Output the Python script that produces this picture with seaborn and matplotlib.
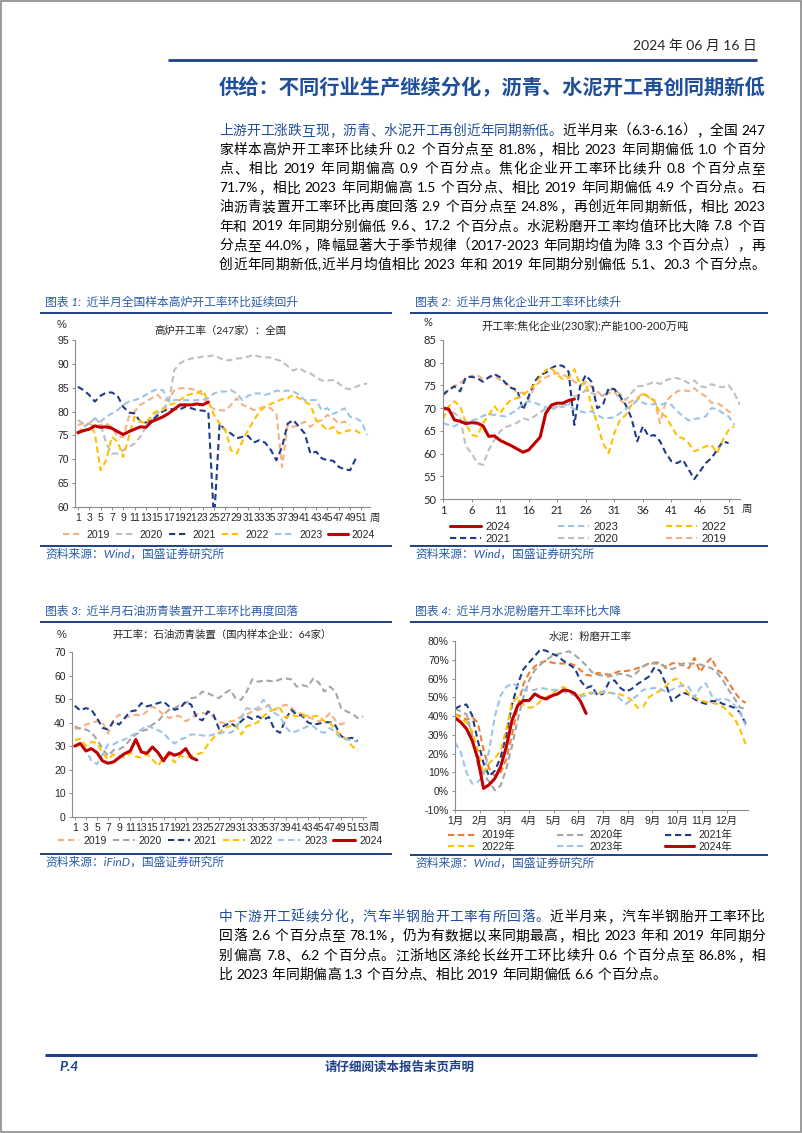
import re
import numpy as np
import matplotlib
matplotlib.use("Agg")
import matplotlib.pyplot as plt
from matplotlib.patches import Rectangle
import seaborn as sns

# ---- chart 1: blast furnace utilisation (247 mills), weekly
bf_2019 = [77.2, 77.5, 77.5, 76.8, 77.2, 77.5, 76.8, 74.7, 74.7, 78.9, 80.0, 81.4, 82.1, 82.8, 83.5, 82.4,
           82.4, 84.5, 84.9, 84.9, 84.7, 84.5, 83.5, 81.4, 80.5, 80.3, 80.2, 81.4, 82.8, 81.4, 81.0, 80.3,
           80.7, 81.0, 80.7, 79.6, 68.4, 77.2, 76.8, 77.2, 77.9, 76.8, 77.9, 78.2, 79.3, 78.6, 77.5, 77.9, 77.2]
bf_2020 = [78.2, 77.5, 77.5, 78.6, 77.5, 73.3, 71.2, 71.2, 71.9, 72.6, 73.3, 74.7, 76.8, 78.6, 79.6, 80.7,
           81.7, 88.7, 90.1, 90.8, 91.1, 91.3, 91.5, 91.6, 91.8, 91.2, 90.7, 90.8, 91.1, 91.2, 91.5, 91.9,
           91.5, 91.4, 91.3, 90.9, 90.5, 89.5, 88.6, 89.1, 88.4, 88.0, 87.2, 86.5, 86.5, 86.6, 85.9, 84.9,
           84.7, 85.2, 85.6, 85.9]
bf_2021 = [85.2, 84.5, 83.5, 82.1, 83.3, 84.0, 84.0, 83.3, 81.0, 79.8, 79.6, 77.9, 77.7, 78.2, 79.1, 80.1,
           80.5, 80.5, 80.5, 81.0, 80.7, 80.3, 80.2, 80.0, 57.0, 77.5, 76.1, 75.4, 74.4, 74.7, 74.9, 73.5,
           74.0, 73.5, 72.0, 69.8, 72.6, 77.5, 78.2, 76.8, 75.4, 71.2, 71.6, 70.2, 69.8, 69.7, 68.4, 67.9,
           67.7, 70.2]
bf_2022 = [75.4, 76.8, 77.5, 75.4, 67.7, 69.8, 74.7, 73.7, 70.5, 74.7, 78.9, 77.9, 77.5, 79.3, 80.2, 80.3,
           81.4, 81.7, 82.4, 83.3, 83.7, 83.8, 84.5, 82.1, 79.3, 77.5, 76.1, 71.9, 71.2, 73.7, 76.1, 78.1,
           80.0, 81.0, 81.6, 82.1, 82.6, 82.8, 83.5, 82.8, 82.1, 81.4, 78.2, 77.2, 76.1, 76.8, 75.4, 75.8,
           76.1, 76.0, 75.3]
bf_2023 = [75.1, 76.8, 77.5, 78.6, 77.9, 78.9, 79.6, 80.3, 81.4, 82.1, 82.4, 82.8, 83.5, 84.2, 84.7, 84.5,
           82.1, 82.4, 82.4, 82.4, 82.3, 82.4, 82.4, 82.8, 83.8, 84.2, 84.2, 84.5, 83.8, 82.4, 83.3, 83.8,
           83.8, 83.5, 83.8, 84.4, 84.2, 84.4, 84.2, 83.5, 82.4, 82.4, 82.4, 80.3, 80.7, 79.5, 80.0, 80.7,
           78.9, 78.6, 77.9, 75.1]
bf_2024 = [75.6, 76.0, 76.3, 77.0, 76.7, 76.8, 76.5, 75.8, 75.2, 75.8, 76.3, 76.8, 76.7, 77.9, 78.4, 78.9,
           79.6, 80.5, 81.4, 81.4, 81.4, 81.6, 81.4, 82.0]

# ---- chart 2: coking plants (230), weekly
coke_2019 = [73.3, 74.0, 74.9, 75.5, 76.6, 77.1, 77.3, 76.4, 76.6, 77.1, 76.2, 75.3, 74.8, 73.3, 73.4, 71.8,
             74.8, 75.8, 76.8, 77.3, 77.7, 77.3, 76.8, 75.8, 75.1, 75.5, 74.8, 73.7, 72.6, 73.3, 73.7, 71.8,
             70.9, 71.5, 72.2, 73.3, 72.4, 71.8, 66.7, 71.5, 72.7, 73.7, 74.0, 73.7, 74.4, 73.3, 72.6, 71.2,
             71.1, 70.4, 69.3, 68.5]
coke_2020 = [70.0, 69.3, 68.9, 67.8, 61.6, 60.1, 57.9, 57.5, 60.8, 63.0, 64.9, 65.8, 66.3, 66.8, 67.8, 67.4,
             68.2, 69.0, 70.0, 70.0, 70.5, 70.2, 70.7, 72.6, 72.9, 74.0, 73.3, 72.9, 72.7, 73.9, 74.2, 73.1,
             71.8, 73.3, 74.8, 74.9, 75.3, 75.8, 75.3, 76.1, 76.6, 76.6, 76.2, 75.5, 76.1, 74.8, 74.6, 75.3,
             74.8, 74.6, 75.1, 73.3, 70.7]
coke_2021 = [72.9, 74.0, 74.8, 73.7, 76.8, 76.9, 76.6, 75.8, 76.8, 77.5, 76.8, 75.5, 74.4, 74.0, 69.6, 72.6,
             75.8, 77.3, 77.8, 78.8, 79.5, 79.3, 78.0, 66.3, 74.8, 77.3, 75.8, 70.0, 70.7, 74.4, 74.2, 72.6,
             70.7, 67.8, 62.7, 66.0, 63.8, 64.1, 62.7, 60.1, 58.3, 57.9, 58.6, 56.5, 54.4, 56.1, 57.9, 59.0,
             60.8, 62.7, 62.3]
coke_2022 = [67.6, 70.4, 71.5, 70.4, 66.7, 64.1, 63.8, 66.7, 68.5, 70.4, 68.9, 70.7, 72.0, 72.2, 72.9, 73.9,
             75.1, 76.8, 78.4, 78.8, 77.3, 76.4, 76.6, 78.6, 75.1, 75.8, 70.4, 66.7, 62.3, 60.1, 64.5, 67.4,
             68.5, 70.7, 71.8, 73.1, 72.7, 71.5, 68.9, 68.2, 66.0, 63.8, 63.4, 62.3, 60.5, 61.0, 61.6, 61.9,
             60.1, 63.0, 65.2, 66.0]
coke_2023 = [66.7, 66.3, 66.0, 66.8, 67.1, 67.3, 67.6, 68.3, 68.7, 68.5, 68.3, 68.2, 68.9, 69.6, 71.1, 71.5,
             71.2, 70.7, 70.2, 69.5, 70.4, 70.9, 70.5, 69.8, 69.3, 69.0, 69.3, 68.5, 67.8, 67.8, 68.0, 68.9,
             69.8, 70.5, 71.7, 71.2, 70.7, 70.9, 70.7, 71.1, 70.7, 69.3, 68.3, 67.3, 67.6, 67.8, 68.2, 70.0,
             69.8, 68.9, 68.2, 66.3]
coke_2024 = [70.0, 69.8, 67.4, 67.1, 66.6, 66.8, 66.7, 66.1, 63.8, 63.9, 62.9, 62.3, 61.7, 61.0, 60.3, 60.8,
             62.2, 63.6, 68.9, 70.7, 71.1, 71.1, 71.7, 72.0]

# ---- chart 3: petroleum asphalt units (64 firms), weekly
asp_2019 = [37.4, 37.8, 39.2, 39.9, 40.6, 40.2, 35.4, 41.3, 43.4, 42.0, 42.7, 43.4, 43.0, 44.8, 46.9, 45.5,
            43.4, 42.0, 43.0, 42.7, 40.6, 42.0, 43.4, 44.1, 43.8, 42.4, 40.2, 39.9, 40.6, 41.0, 42.7, 43.4,
            44.8, 45.5, 46.2, 47.6, 45.5, 46.9, 47.6, 46.6, 44.1, 43.8, 42.4, 41.6, 40.6, 41.6, 44.1, 41.0,
            39.2, 40.2]
asp_2020 = [38.5, 37.4, 37.1, 36.0, 32.9, 29.0, 25.9, 28.4, 28.7, 30.1, 32.9, 35.0, 36.4, 37.1, 39.2, 40.6,
            43.4, 45.5, 46.2, 47.6, 48.3, 50.4, 50.8, 53.2, 52.5, 51.4, 50.4, 52.5, 53.9, 50.4, 49.7, 53.2,
            58.4, 57.4, 57.8, 57.8, 57.4, 58.4, 58.8, 58.4, 55.3, 56.0, 55.3, 58.8, 57.0, 53.2, 55.3, 53.2,
            46.2, 44.8, 43.8, 42.0, 42.7]
asp_2021 = [47.2, 45.2, 46.2, 45.5, 42.0, 37.8, 37.1, 40.6, 39.2, 42.0, 44.8, 45.2, 48.3, 46.9, 47.6, 48.3,
            49.0, 46.9, 45.5, 46.2, 49.0, 47.6, 42.0, 41.0, 44.8, 43.4, 37.4, 38.8, 39.9, 38.5, 40.6, 42.7,
            41.6, 42.7, 41.3, 42.4, 37.1, 35.7, 41.3, 45.5, 43.4, 43.0, 40.2, 39.2, 39.6, 40.2, 40.2, 38.8,
            34.3, 33.2, 33.6, 32.2]
asp_2022 = [32.6, 33.2, 30.1, 31.8, 31.5, 27.3, 24.5, 26.6, 25.9, 25.2, 27.3, 25.6, 25.2, 26.6, 24.5, 21.7,
            25.2, 26.2, 23.1, 25.9, 25.2, 25.9, 26.6, 27.3, 30.8, 33.6, 35.7, 37.8, 38.5, 39.2, 35.0, 38.5,
            39.2, 40.2, 42.7, 44.8, 45.5, 46.2, 42.0, 43.4, 42.7, 43.0, 43.0, 42.7, 43.0, 40.6, 39.9, 37.1,
            34.3, 33.2, 30.1, 28.0]
asp_2023 = [29.8, 30.8, 28.7, 23.8, 22.4, 26.6, 30.8, 30.8, 32.2, 32.9, 34.3, 35.4, 37.1, 38.8, 37.8, 36.8,
            35.7, 32.9, 31.2, 32.9, 33.6, 35.0, 35.0, 34.6, 34.3, 35.0, 35.4, 36.0, 35.7, 37.1, 42.0, 46.2,
            45.5, 46.2, 49.7, 46.9, 44.1, 42.7, 38.2, 35.7, 36.4, 37.4, 38.5, 38.5, 36.4, 35.7, 37.8, 35.7,
            33.6, 32.9, 32.6, 31.8]
asp_2024 = [30.1, 31.2, 28.0, 29.0, 27.3, 23.8, 22.8, 23.4, 25.2, 26.9, 28.0, 32.9, 27.6, 27.0, 29.7, 27.3,
            23.8, 27.3, 26.2, 27.0, 29.0, 25.2, 24.2]

# ---- chart 4: cement grinding utilisation (%), weekly through the year
cem_2019 = [41, 40, 38, 39.5, 36.5, 22, 12, 8, 10, 17, 30, 45, 57, 63, 66.5, 68.5, 69.5, 68.5, 68, 68,
            68.2, 67, 64.5, 62, 61.5, 63, 62.5, 62, 63, 64, 64, 64.5, 65.5, 66.5, 68, 68.5, 68.5, 65.5, 68, 68.5,
            67, 65.5, 71, 63.5, 68, 71, 64.5, 62.5, 58, 53, 49, 47]
cem_2020 = [44, 42.5, 41, 30, 14, 9, 5, 0.5, 3, 12, 24, 38, 50, 59, 64.5, 67.5, 70, 72, 73, 73.8,
            74.5, 72.5, 70, 67, 63.5, 62, 61.5, 61, 62, 62.5, 62, 61, 63.5, 66.5, 68, 68, 67.5, 66.5, 65, 66,
            68, 68, 68, 67.5, 66.5, 65.5, 63, 59, 54, 49.5, 44.5, 44]
cem_2021 = [44, 45.5, 46.2, 40.5, 27, 15, 8, 11, 18, 30, 46, 57, 65, 68.5, 72, 75.5, 74.8, 73.2, 72, 69.5,
            67.5, 65.5, 59, 55, 56, 51, 52, 58, 59, 55, 53, 54.5, 57, 59, 61, 66, 64, 57, 48, 50.5,
            52.5, 51.5, 49, 47.5, 46.5, 48, 48, 46.5, 45.5, 44.5, 42, 36]
cem_2022 = [41, 39, 36.5, 32, 22, 9, 15, 17.6, 21.5, 33, 47, 50, 46, 44.5, 45, 48, 50, 52, 54, 55.5,
            54, 52, 51, 52.5, 52.5, 52, 52.5, 52.5, 52, 51.5, 50.5, 48.5, 44.5, 45, 50, 52, 53.5, 56, 59, 60,
            56, 52, 50, 48.5, 47.5, 47, 46.5, 45, 42, 39, 33, 25]
cem_2023 = [26, 21, 10, 4, 5, 8.5, 22, 40, 51, 55.5, 57.5, 56, 54, 53.5, 54, 55, 54.5, 54, 54, 53,
            52, 51, 50.2, 51, 52, 53, 53, 52.5, 52, 49, 46.5, 49, 51, 54, 54.6, 55, 54.5, 53, 54, 55.5,
            56.5, 55.5, 50, 55, 57.5, 51, 48.5, 49.5, 48.5, 46, 42, 35]
cem_2024 = [39.1, 36.8, 33.3, 27.1, 17.4, 1.5, 3.5, 6.8, 13.0, 23.6, 37.7, 45.6, 48.3, 48.3, 51.8, 50.0,
            49.1, 50.9, 51.8, 53.9, 53.5, 52.0, 48.0, 41.4]

months = ["1月", "2月", "3月", "4月", "5月", "6月", "7月", "8月", "9月", "10月", "11月", "12月"]

header_date = "2024 年 06 月 16 日"
section_title = "供给：不同行业生产继续分化，沥青、水泥开工再创同期新低"
para1_lead = "上游开工涨跌互现，沥青、水泥开工再创近年同期新低。"
para1 = [
    "近半月来（6.3-6.16），全国 247",
    "家样本高炉开工率环比续升 0.2 个百分点至 81.8%，相比 2023 年同期偏低 1.0 个百分",
    "点、相比 2019 年同期偏高 0.9 个百分点。焦化企业开工率环比续升 0.8 个百分点至",
    "71.7%，相比 2023 年同期偏高 1.5 个百分点、相比 2019 年同期偏低 4.9 个百分点。石",
    "油沥青装置开工率环比再度回落 2.9 个百分点至 24.8%，再创近年同期新低，相比 2023",
    "年和 2019 年同期分别偏低 9.6、17.2 个百分点。水泥粉磨开工率均值环比大降 7.8 个百",
    "分点至 44.0%，降幅显著大于季节规律（2017-2023 年同期均值为降 3.3 个百分点），再",
    "创近年同期新低,近半月均值相比 2023 年和 2019 年同期分别偏低 5.1、20.3 个百分点。",
]
para2_lead = "中下游开工延续分化，汽车半钢胎开工率有所回落。"
para2 = [
    "近半月来，汽车半钢胎开工率环比",
    "回落 2.6 个百分点至 78.1%，仍为有数据以来同期最高，相比 2023 年和 2019 年同期分",
    "别偏高 7.8、6.2 个百分点。江浙地区涤纶长丝开工环比续升 0.6 个百分点至 86.8%，相",
    "比 2023 年同期偏高 1.3 个百分点、相比 2019 年同期偏低 6.6 个百分点。",
]

sns.set_style("white")
CJK = "Noto Sans CJK SC"
MIX = ["Lato", CJK]
ARIAL = ["Liberation Sans", CJK]
plt.rcParams["font.family"] = ARIAL
plt.rcParams["axes.unicode_minus"] = False

BLUE = "#1F4E9A"
RULE = "#1F3F8C"
W, H = 802, 1133
fig = plt.figure(figsize=(W / 100, H / 100), dpi=100)
renderer = fig.canvas.get_renderer()

# full-page layer in pixel coordinates for text and rules
bg = fig.add_axes([0, 0, 1, 1])
bg.set_xlim(0, W)
bg.set_ylim(H, 0)
bg.axis("off")
bg.add_patch(Rectangle((0.5, 0.5), W - 1.5, H - 1.5, fill=False, ec="#8a8a8a", lw=1.2))


def rule(x0, x1, y, lw=1.6):
    bg.plot([x0, x1], [y, y], color=RULE, lw=lw, solid_capstyle="butt")


def add_axes(x0, y0, x1, y1):
    return fig.add_axes([x0 / W, 1 - y1 / H, (x1 - x0) / W, (y1 - y0) / H])


# header / title
bg.text(757, 46, header_date, ha="right", va="center", fontsize=10, family=MIX)
rule(168, 757, 60, lw=2)
bg.text(765, 88, section_title, ha="right", va="center", fontsize=14.6, family=CJK,
        fontweight="bold", color=BLUE)

BODY_FS = 9.9
SPACE_W = 3.6


def word_width(s):
    t = bg.text(0, 0, s, fontsize=BODY_FS, family=MIX)
    w = t.get_window_extent(renderer=renderer).width
    t.remove()
    return w


def body_line(segments, y, fill=True, x0=219, x1=765):
    # justified line: spread the slack evenly between characters / words
    items = []
    for s, color in segments:
        items += [(tok, color) for tok in re.findall(r"[A-Za-z0-9.%\-]+| |.", s)]
    widths = [SPACE_W if tok == " " else word_width(tok) for tok, _ in items]
    extra = (x1 - x0 - sum(widths)) / (len(items) - 1) if fill else 0.0
    x = x0
    for (tok, color), w in zip(items, widths):
        if tok != " ":
            bg.text(x, y, tok, ha="left", va="baseline", fontsize=BODY_FS, family=MIX, color=color)
        x += w + extra


def paragraph(lead, lines, yc, step, fill_last):
    body_line([(lead, BLUE), (lines[0], "black")], yc + 5)
    last = len(lines) - 1
    for i, s in enumerate(lines[1:], start=1):
        body_line([(s, "black")], yc + 5 + i * step, fill=(i < last) or fill_last)


paragraph(para1_lead, para1, 130, 19.1, True)
paragraph(para2_lead, para2, 916, 19.4, False)

# footer
rule(45, 757, 1055, lw=2.2)
bg.text(59, 1067, "P.4", ha="left", va="center", fontsize=10, family=MIX, fontweight="bold",
        fontstyle="italic", color=RULE)
bg.text(400, 1067, "请仔细阅读本报告末页声明", ha="center", va="center", fontsize=9,
        family=CJK, fontweight="bold", color=RULE)

col_a = {2019: "#F4B183", 2020: "#BFBFBF", 2021: "#1F3C88", 2022: "#FFC000", 2023: "#9DC3E6",
         2024: "#C00000"}
col_c = {**col_a, 2020: "#A6A6A6"}
col_d = {2019: "#ED7D31", 2020: "#A5A5A5", 2021: "#203A8C", 2022: "#FFC000", 2023: "#9DC3E6",
         2024: "#C00000"}


def draw_lines(ax, series, colors):
    x = np.arange(1, 60)
    lines = {}
    for year, vals in series.items():
        sns.lineplot(x=x[:len(vals)], y=vals, ax=ax, color=colors[year],
                     lw=2.2 if year == 2024 else 1.5, legend=False)
        ln = ax.lines[-1]
        if year != 2024:
            ln.set_dashes((3.0, 1.8))
        lines[year] = ln
    return lines


def style_axes(ax, ylim, yticks, xlim, xticks, xlabels, fs, family=ARIAL):
    ax.set_xlim(*xlim)
    ax.set_ylim(*ylim)
    ax.set_yticks(yticks)
    ax.set_xticks(xticks)
    ax.set_xticklabels(xlabels)
    ax.set_xlabel("")
    ax.set_ylabel("")
    ax.patch.set_alpha(0)
    for s in ["top", "right"]:
        ax.spines[s].set_visible(False)
    for s in ["left", "bottom"]:
        ax.spines[s].set_color("#8c8c8c")
        ax.spines[s].set_linewidth(0.8)
    ax.tick_params(labelsize=fs, length=2.5, width=0.7, color="#8c8c8c", pad=2,
                   bottom=True, left=True)
    for lab in ax.get_xticklabels() + ax.get_yticklabels():
        lab.set_family(family)


def chart_frame(x0, x1, ytitle, title, source_y, source):
    bg.text(x0 + 5, ytitle, title, ha="left", va="center", fontsize=8.5, family=MIX,
            fontstyle="italic", color="#2A5BA8")
    rule(x0, x1, ytitle + 11, lw=1.4)
    rule(x0, x1, source_y, lw=1.4)
    bg.text(x0 + 5, source_y + 8, source, ha="left", va="center", fontsize=8.5, family=MIX,
            fontstyle="italic", color="#2A5BA8")


def legend(ax, lines, order, labels, cx, cy, ncol, hl, colsp, fs=7.5):
    ax.legend([lines[y] for y in order], labels, loc="center", ncol=ncol,
              bbox_to_anchor=(cx / W, 1 - cy / H), bbox_transform=fig.transFigure,
              frameon=False, handlelength=hl, handletextpad=0.4, columnspacing=colsp,
              labelspacing=0.15, borderaxespad=0, prop={"family": ARIAL, "size": fs})


# ---- chart 1
chart_frame(40, 392, 302, "图表 1:  近半月全国样本高炉开工率环比延续回升", 546, "资料来源：Wind，国盛证券研究所")
ax1 = add_axes(75, 340, 370, 507)
l1 = draw_lines(ax1, {2019: bf_2019, 2020: bf_2020, 2021: bf_2021, 2022: bf_2022,
                      2023: bf_2023, 2024: bf_2024}, col_a)
style_axes(ax1, (60, 95), range(60, 96, 5), (0.5, 52.5), range(1, 53, 2),
           [str(w) for w in range(1, 53, 2)], 7.5)
bg.text(62, 325, "%", ha="center", va="center", fontsize=8)
bg.text(375, 518, "周", ha="center", va="center", fontsize=7.5, family=CJK)
bg.text(220, 331, "高炉开工率（247家）：全国", ha="center", va="center", fontsize=7.5, family=MIX)
legend(ax1, l1, [2019, 2020, 2021, 2022, 2023, 2024], ["2019", "2020", "2021", "2022", "2023", "2024"],
       219, 535, 6, 1.9, 0.55)

# ---- chart 2
chart_frame(410, 768, 302, "图表 2:  近半月焦化企业开工率环比续升", 546, "资料来源：Wind，国盛证券研究所")
ax2 = add_axes(443, 340, 740, 499)
l2 = draw_lines(ax2, {2019: coke_2019, 2020: coke_2020, 2021: coke_2021, 2022: coke_2022,
                      2023: coke_2023, 2024: coke_2024}, col_a)
style_axes(ax2, (50, 85), range(50, 86, 5), (1, 53), range(1, 53, 5),
           [str(w) for w in range(1, 53, 5)], 8, MIX)
bg.text(428, 322, "%", ha="center", va="center", fontsize=8, family=MIX)
bg.text(747, 509, "周", ha="center", va="center", fontsize=7.5, family=CJK)
bg.text(585, 327, "开工率:焦化企业(230家):产能100-200万吨", ha="center", va="center", fontsize=8,
        family=MIX)
legend(ax2, l2, [2024, 2021, 2023, 2020, 2022, 2019], ["2024", "2021", "2023", "2020", "2022", "2019"],
       588, 533, 3, 2.8, 4.3, fs=8)

# ---- chart 3
chart_frame(40, 392, 611, "图表 3:  近半月石油沥青装置开工率环比再度回落", 854, "资料来源：iFinD，国盛证券研究所")
ax3 = add_axes(72, 652, 366, 817)
l3 = draw_lines(ax3, {2019: asp_2019, 2020: asp_2020, 2021: asp_2021, 2022: asp_2022,
                      2023: asp_2023, 2024: asp_2024}, col_c)
style_axes(ax3, (0, 70), range(0, 71, 10), (0.5, 53.5), range(1, 54, 2),
           [str(w) for w in range(1, 54, 2)], 7.5)
bg.text(62, 635, "%", ha="center", va="center", fontsize=8)
bg.text(374, 827, "周", ha="center", va="center", fontsize=7.5, family=CJK)
bg.text(222, 635, "开工率：石油沥青装置（国内样本企业：64家）", ha="center", va="center", fontsize=7.5,
        family=MIX)
legend(ax3, l3, [2019, 2020, 2021, 2022, 2023, 2024], ["2019", "2020", "2021", "2022", "2023", "2024"],
       220, 841, 6, 2.1, 0.55)

# ---- chart 4
chart_frame(410, 768, 611, "图表 4:  近半月水泥粉磨开工率环比大降", 855, "资料来源：Wind，国盛证券研究所")
ax4 = add_axes(455, 641, 748, 810)
l4 = draw_lines(ax4, {2019: cem_2019, 2020: cem_2020, 2021: cem_2021, 2022: cem_2022,
                      2023: cem_2023, 2024: cem_2024}, col_d)
style_axes(ax4, (-10, 80), range(-10, 81, 10), (1, 52.4), [1 + m * 4.33 for m in range(12)],
           months, 7.5)
ax4.set_yticklabels([f"{v}%" for v in range(-10, 81, 10)])
for lab in ax4.get_yticklabels():
    lab.set_family(ARIAL)
bg.text(590, 637, "水泥：粉磨开工率", ha="center", va="center", fontsize=7.5, family=CJK)
legend(ax4, l4, [2019, 2022, 2020, 2023, 2021, 2024],
       ["2019年", "2022年", "2020年", "2023年", "2021年", "2024年"], 590, 841, 3, 2.8, 4.0)

fig.savefig("out.png", dpi=100)
